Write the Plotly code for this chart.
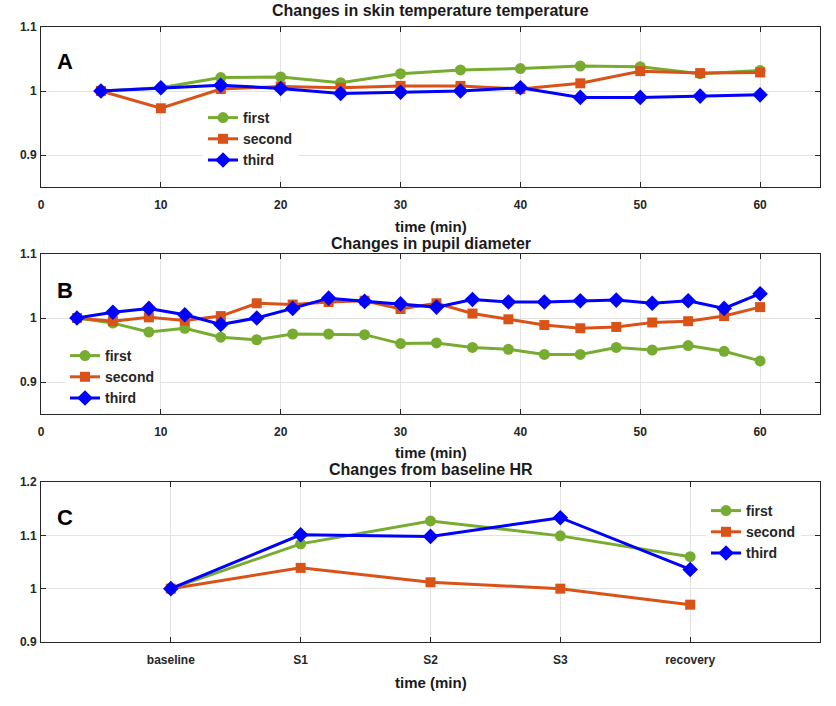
import plotly.graph_objects as go

# ---------------- data ----------------
series_names = ["first", "second", "third"]

# Panel A: skin temperature
time_a = [5, 10, 15, 20, 25, 30, 35, 40, 45, 50, 55, 60]
skin_first = [1.000, 1.005, 1.021, 1.022, 1.013, 1.027, 1.033, 1.035, 1.039, 1.038, 1.027, 1.032]
skin_second = [1.000, 0.973, 1.003, 1.007, 1.005, 1.008, 1.008, 1.003, 1.012, 1.031, 1.028, 1.029]
skin_third = [1.000, 1.005, 1.009, 1.004, 0.996, 0.998, 1.000, 1.005, 0.990, 0.990, 0.992, 0.994]

# Panel B: pupil diameter
time_b = [3, 6, 9, 12, 15, 18, 21, 24, 27, 30, 33, 36, 39, 42, 45, 48, 51, 54, 57, 60]
pupil_first = [1.000, 0.992, 0.978, 0.984, 0.970, 0.966, 0.975, 0.975, 0.974, 0.960, 0.961,
               0.954, 0.951, 0.943, 0.943, 0.954, 0.950, 0.957, 0.948, 0.933]
pupil_second = [1.000, 0.995, 1.001, 0.996, 1.003, 1.023, 1.021, 1.025, 1.027, 1.014, 1.023,
                1.007, 0.998, 0.989, 0.984, 0.986, 0.993, 0.995, 1.003, 1.017]
pupil_third = [1.000, 1.009, 1.015, 1.005, 0.990, 1.000, 1.015, 1.031, 1.026, 1.022, 1.017,
               1.029, 1.025, 1.025, 1.027, 1.028, 1.023, 1.027, 1.015, 1.038]

# Panel C: heart rate
hr_labels = ["baseline", "S1", "S2", "S3", "recovery"]
hr_pos = [1, 2, 3, 4, 5]
hr_first = [1.000, 1.084, 1.127, 1.099, 1.060]
hr_second = [1.000, 1.039, 1.012, 1.000, 0.970]
hr_third = [1.000, 1.101, 1.098, 1.133, 1.036]

titles = ["Changes in skin temperature temperature", "Changes in pupil diameter",
          "Changes from baseline HR"]
panel_letters = ["A", "B", "C"]
xlabel = "time (min)"

# ---------------- style ----------------
W, H = 836, 706
colors = ["#77AC30", "#D95319", "#0000FF"]
symbols = ["circle", "square", "diamond"]
msizes = [11, 10, 12]
FONT = "Liberation Sans, Arial, Helvetica, sans-serif"
AXC = "#262626"

# plot area pixel boxes (top, bottom)
left_px, right_px = 41, 820
boxes = [(27, 187), (254, 414), (482, 642)]

def py(p):
    return 1 - p / H

def px(p):
    return p / W

fig = go.Figure()

panels = [
    (time_a, [skin_first, skin_second, skin_third]),
    (time_b, [pupil_first, pupil_second, pupil_third]),
    (hr_pos, [hr_first, hr_second, hr_third]),
]
legend_names = ["legend", "legend2", "legend3"]

for i, (xs, ys_list) in enumerate(panels):
    suffix = "" if i == 0 else str(i + 1)
    for j, ys in enumerate(ys_list):
        fig.add_trace(go.Scatter(
            x=xs, y=ys, mode="lines+markers", name=series_names[j],
            line=dict(color=colors[j], width=3),
            marker=dict(color=colors[j], symbol=symbols[j], size=msizes[j]),
            xaxis="x" + suffix, yaxis="y" + suffix,
            legend=legend_names[i], showlegend=True, hoverinfo="skip",
        ))

axis_common = dict(
    showline=True, linecolor=AXC, linewidth=1, mirror="ticks",
    ticks="inside", ticklen=5, tickcolor=AXC, tickwidth=1,
    showgrid=True, gridcolor="#e3e3e3", gridwidth=1, zeroline=False,
    tickfont=dict(family=FONT, size=12, color="#262626", weight="bold"),
    fixedrange=True, automargin=False,
)

yranges = [[0.85, 1.1], [0.85, 1.1], [0.9, 1.2]]
yticks = [[0.9, 1.0, 1.1], [0.9, 1.0, 1.1], [0.9, 1.0, 1.1, 1.2]]
yticktext = [["0.9", "1", "1.1"], ["0.9", "1", "1.1"], ["0.9", "1", "1.1", "1.2"]]

layout = {}
for i in range(3):
    suffix = "" if i == 0 else str(i + 1)
    top, bot = boxes[i]
    xa = dict(axis_common, domain=[px(left_px), px(right_px)], anchor="y" + suffix,
              ticklabelstandoff=7)
    if i < 2:
        xa.update(range=[0, 65], tickvals=[0, 10, 20, 30, 40, 50, 60])
    else:
        xa.update(range=[0, 6], tickvals=hr_pos, ticktext=hr_labels)
    ya = dict(axis_common, domain=[py(bot), py(top)], anchor="x" + suffix,
              range=yranges[i], tickvals=yticks[i], ticktext=yticktext[i],
              ticklabelstandoff=1)
    layout["xaxis" + suffix] = xa
    layout["yaxis" + suffix] = ya

legend_common = dict(
    bgcolor="white", borderwidth=0,
    font=dict(family=FONT, size=14, color="#262626", weight="bold"),
    xanchor="left", yanchor="top", tracegroupgap=0,
    itemclick=False, itemdoubleclick=False,
)
legend_pos = [(203, 102), (65, 340), (706, 495)]
for name, (lx, ly) in zip(legend_names, legend_pos):
    layout[name] = dict(legend_common, x=px(lx), y=py(ly))

fig.update_layout(
    width=W, height=H,
    margin=dict(l=0, r=0, t=0, b=0, autoexpand=False),
    paper_bgcolor="white", plot_bgcolor="white",
    font=dict(family=FONT, color="#262626"),
    hovermode=False,
    **layout,
)

center_x = px((left_px + right_px) / 2)
title_y = [11, 243, 469]
xlabel_y = [226, 453, 682]
letter_y = [61, 290, 517]
annotations = []
for i in range(3):
    annotations.append(dict(
        text=titles[i], x=center_x, y=py(title_y[i]), xref="paper", yref="paper",
        xanchor="center", yanchor="middle", showarrow=False,
        font=dict(family=FONT, size=16, color="#1a1a1a", weight="bold")))
    annotations.append(dict(
        text=xlabel, x=center_x, y=py(xlabel_y[i]), xref="paper", yref="paper",
        xanchor="center", yanchor="middle", showarrow=False,
        font=dict(family=FONT, size=15, color="#1a1a1a", weight="bold")))
    annotations.append(dict(
        text=panel_letters[i], x=px(65), y=py(letter_y[i]), xref="paper", yref="paper",
        xanchor="center", yanchor="middle", showarrow=False,
        font=dict(family=FONT, size=22, color="black", weight="bold")))
fig.update_layout(annotations=annotations)

fig.write_html(
    "out.html",
    config={"displayModeBar": False},
    post_script="document.body.style.margin='0';document.body.style.overflow='hidden';",
)
